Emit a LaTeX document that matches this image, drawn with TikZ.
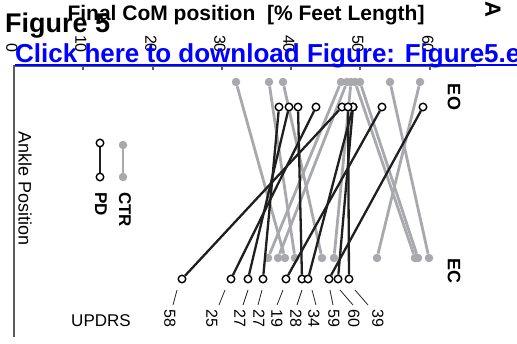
\documentclass[tikz,border=0pt]{standalone}
\usepackage{fontspec}
\setmainfont{Liberation Sans}
\definecolor{ctrgray}{RGB}{167,169,172}
\definecolor{axgray}{RGB}{90,90,90}
\definecolor{linkblue}{RGB}{0,0,255}
\pgfdeclarelayer{gl}
\pgfdeclarelayer{gd}
\pgfdeclarelayer{bl}
\pgfsetlayers{gl,gd,bl,main}
\newcommand{\fs}[1]{\fontsize{#1}{#1}\selectfont}
\begin{document}
\begin{tikzpicture}[x=1pt,y=-1pt,
  ctrdot/.style={circle,fill=ctrgray,inner sep=0pt,minimum size=8.5pt},
  pddot/.style={circle,draw=black,fill=white,line width=1.4pt,inner sep=0pt,minimum size=7.5pt},
  ctrline/.style={ctrgray,line width=2.8pt},
  pdline/.style={black!88,line width=2.3pt},
  axisline/.style={axgray,line width=1.1pt},
  leader/.style={black!85,line width=0.8pt},
  rot/.style={rotate=-90,inner sep=0pt},
  lbl/.style={rot,anchor=west,font=\fs{16}},
  tlbl/.style={rot,anchor=east,font=\fs{16}},
  bigbold/.style={inner sep=0pt,font=\bfseries\fs{#1}}]
\useasboundingbox (0,0) rectangle (517,343);
\clip (0,0) rectangle (517,343);
% axes
\coordinate (ax0) at (14,66);
\coordinate (ax1) at (476,66);
\coordinate (ay1) at (14,337);
\draw[axisline] (ax1) -- (ax0) -- (ay1);
\foreach \v [count=\i from 0] in {14,83,153,222,291,360,430} {
  \coordinate (tk\i) at (\v,66);
  \draw[axisline] (tk\i) -- ++(0,4);
  \node[tlbl] (tl\i) at (\v-2,53) {\number\numexpr\i*10\relax};
}
% CTR lines
\foreach \a/\b [count=\i] in {236/285,269/295,283/322,341/268,347/278,351/334,355/415,360/418,390/429,420/377} {
  \begin{pgfonlayer}{gd}
    \node[ctrdot] (ceo\i) at (\a,82) {};
    \node[ctrdot] (cec\i) at (\b,258) {};
  \end{pgfonlayer}
  \begin{pgfonlayer}{gl}
    \draw[ctrline] (ceo\i) -- (cec\i);
  \end{pgfonlayer}
}
% PD lines
\foreach \a/\b/\u/\tx/\bx/\lx [count=\i] in {342/182/58/177/173/170,316/231/25/225/219/212,289/248/27/248/243/240,279/263/27/262/258/259,382/286/19/283/277/277,298/302/28/302/297/296,353/308/34/312/316/314,423/329/59/330/333/334,353/338/60/340/353/354,348/349/39/355/368/378} {
  \node[pddot] (peo\i) at (\a,107) {};
  \node[pddot] (pec\i) at (\b,279) {};
  \begin{pgfonlayer}{bl}
    \draw[pdline] (peo\i) -- (pec\i);
  \end{pgfonlayer}
  \coordinate (lt\i) at (\tx,290);
  \coordinate (lb\i) at (\bx,305);
  \draw[leader] (lt\i) -- (lb\i);
  \node[lbl] (ul\i) at (\lx,309) {\u};
}
% legend
\node[ctrdot] (lc1) at (123,145) {};
\node[ctrdot] (lc2) at (123,177) {};
\begin{pgfonlayer}{gl}\draw[ctrline] (lc1) -- (lc2);\end{pgfonlayer}
\node[pddot] (lp1) at (100,143) {};
\node[pddot] (lp2) at (100,177) {};
\begin{pgfonlayer}{bl}\draw[pdline] (lp1) -- (lp2);\end{pgfonlayer}
\node[rot,anchor=west,font=\bfseries\fs{17}] (ctrtxt) at (125,192) {CTR};
\node[rot,anchor=west,font=\bfseries\fs{17}] (pdtxt) at (101,192) {PD};
% labels
\node[rot,font=\fs{18}] (ankle) at (25,189) {Ankle Position};
\node[inner sep=0pt,font=\fs{17}] (updrs) at (101,321) {UPDRS};
\node[rot,font=\bfseries\fs{18}] (eo) at (454,97) {EO};
\node[rot,font=\bfseries\fs{18}] (ec) at (454,271) {EC};
\node[rot,font=\bfseries\fs{22}] (lettA) at (493,9) {A};
\node[bigbold=21,anchor=base] (title) at (246,20) {Final CoM position~~[\% Feet Length]};
\node[bigbold=27,anchor=base west] (fig) at (5,32) {Figure 5};
\node[bigbold=26,anchor=base west,text=linkblue] (link) at (15,62) {Click here to download Figure: Figure5.eps};
\draw[linkblue,line width=1.6pt] ([yshift=-2.8pt]link.base west) -- ([yshift=-2.8pt]link.base east);
\end{tikzpicture}
\end{document}
